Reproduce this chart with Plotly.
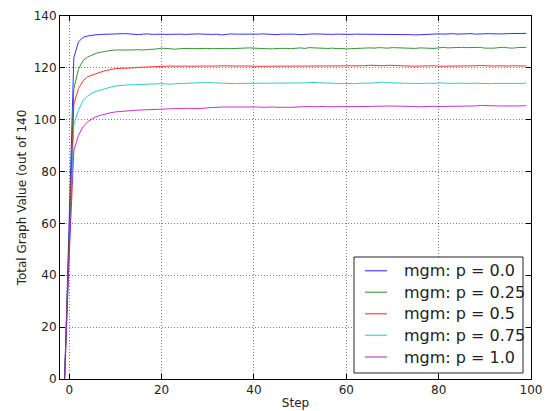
import plotly.graph_objects as go

steps = list(range(-1, 100))

p_00 = [0, 62, 124, 130.0, 131.8, 132.3, 132.6, 132.8, 132.9, 133.0, 132.9, 133.0,
        133.1, 133.2, 133.1, 132.9, 132.8, 133.0, 133.1, 132.9, 133.0, 133.0,
        132.9, 133.0, 133.1, 133.0, 132.9, 133.0, 133.1, 133.1, 133.0, 132.9,
        132.9, 133.0, 132.7, 132.9, 133.1, 133.0, 132.9, 133.0, 133.0, 132.9,
        133.0, 133.1, 133.0, 132.9, 132.8, 133.0, 133.0, 133.1, 133.0, 132.8,
        133.0, 133.0, 133.1, 133.0, 132.9, 133.0, 132.9, 133.0, 132.9, 132.8,
        132.9, 133.0, 133.0, 132.9, 132.9, 132.8, 132.8, 132.9, 132.9, 132.8,
        132.8, 132.9, 132.8, 132.8, 132.7, 132.8, 132.9, 132.8, 133.0, 133.1,
        133.0, 133.1, 133.2, 133.0, 133.1, 133.3, 133.2, 133.0, 133.1, 133.2,
        133.2, 133.1, 133.0, 133.1, 133.2, 133.2, 133.1, 133.2, 133.3]

p_025 = [0, 58, 112, 119.5, 122.8, 124.2, 125.0, 125.7, 126.1, 126.5, 126.7, 126.9,
         126.8, 126.9, 126.9, 127.0, 127.0, 126.9, 127.0, 127.1, 127.3, 127.6,
         127.5, 127.4, 127.2, 127.4, 127.5, 127.5, 127.4, 127.5, 127.5, 127.5,
         127.4, 127.5, 127.6, 127.5, 127.4, 127.5, 127.6, 127.5, 127.7, 127.6,
         127.5, 127.6, 127.5, 127.3, 127.5, 127.6, 127.5, 127.4, 127.6, 127.7,
         127.5, 127.8, 127.7, 127.6, 127.6, 127.5, 127.6, 127.4, 127.5, 127.3,
         127.4, 127.5, 127.4, 127.6, 127.7, 127.6, 127.8, 127.7, 127.6, 127.8,
         127.7, 127.6, 127.5, 127.6, 127.5, 127.7, 127.6, 127.7, 127.5, 127.7,
         127.9, 127.7, 127.8, 127.8, 127.9, 127.8, 127.9, 128.0, 127.9, 127.6,
         127.5, 127.6, 127.8, 127.9, 127.7, 127.6, 127.8, 127.9, 127.9]

p_05 = [0, 55, 106, 112.0, 115.0, 116.6, 117.3, 117.9, 118.5, 119.0, 119.4, 119.7,
        119.8, 119.8, 119.9, 120.0, 120.2, 120.3, 120.2, 120.4, 120.5, 120.6,
        120.6, 120.7, 120.6, 120.7, 120.7, 120.6, 120.7, 120.8, 120.7, 120.7,
        120.6, 120.7, 120.8, 120.7, 120.6, 120.7, 120.7, 120.8, 120.7, 120.6,
        120.6, 120.7, 120.8, 120.7, 120.6, 120.7, 120.8, 120.8, 120.7, 120.7,
        120.8, 120.7, 120.7, 120.6, 120.6, 120.7, 120.8, 120.7, 120.7, 120.8,
        120.7, 120.8, 120.7, 120.8, 121.0, 120.9, 120.8, 120.8, 121.0, 120.9,
        120.8, 120.9, 120.8, 120.7, 120.6, 120.7, 120.8, 120.7, 120.8, 120.6,
        120.6, 120.7, 120.8, 120.7, 120.8, 120.7, 120.7, 120.8, 120.9, 120.8,
        120.7, 120.7, 120.8, 120.7, 120.7, 120.8, 120.7, 120.8, 120.7]

p_075 = [0, 52, 98, 103.7, 107.4, 109.2, 110.3, 111.0, 111.6, 112.1, 112.6, 113.0,
         113.2, 113.3, 113.5, 113.5, 113.6, 113.7, 113.7, 113.8, 113.8, 113.9,
         113.8, 113.7, 113.9, 114.0, 114.1, 114.0, 114.2, 114.4, 114.3, 114.3,
         114.2, 114.1, 114.0, 114.1, 114.0, 113.9, 114.0, 114.0, 114.1, 114.0,
         114.0, 114.1, 114.0, 114.1, 114.0, 114.1, 114.2, 114.1, 114.0, 114.1,
         114.2, 114.4, 114.3, 114.2, 114.1, 114.0, 114.1, 114.0, 114.0, 113.9,
         114.0, 113.9, 114.1, 114.0, 114.1, 114.2, 114.3, 114.5, 114.3, 114.2,
         114.1, 114.0, 113.9, 114.0, 114.0, 113.9, 114.0, 114.1, 114.0, 114.2,
         114.1, 114.0, 114.0, 114.1, 114.0, 113.9, 114.0, 114.1, 114.0, 113.9,
         113.9, 114.0, 114.0, 113.9, 113.8, 113.9, 114.0, 114.0, 114.1]

p_10 = [0, 48, 88, 94.0, 97.3, 99.2, 100.4, 101.3, 101.8, 102.3, 102.7, 103.0,
        103.2, 103.4, 103.5, 103.6, 103.7, 103.8, 103.8, 103.9, 104.0, 104.1,
        104.1, 104.2, 104.3, 104.3, 104.4, 104.4, 104.3, 104.3, 104.4, 104.6,
        104.8, 104.8, 104.9, 104.9, 105.0, 105.0, 105.0, 105.1, 105.0, 104.9,
        104.9, 104.8, 104.9, 104.9, 104.8, 104.9, 104.8, 104.8, 104.9, 105.0,
        105.0, 105.1, 105.0, 105.1, 105.1, 105.0, 105.0, 104.9, 105.0, 105.0,
        105.0, 104.9, 105.0, 105.1, 105.1, 105.2, 105.1, 105.2, 105.3, 105.3,
        105.2, 105.3, 105.2, 105.1, 105.1, 105.0, 105.1, 105.1, 105.2, 105.1,
        105.1, 105.2, 105.1, 105.1, 105.2, 105.2, 105.1, 105.3, 105.5, 105.4,
        105.3, 105.2, 105.3, 105.3, 105.2, 105.3, 105.3, 105.3, 105.4]

labels = ["mgm: p = 0.0", "mgm: p = 0.25", "mgm: p = 0.5", "mgm: p = 0.75", "mgm: p = 1.0"]
series = [p_00, p_025, p_05, p_075, p_10]
colors = ["#0000ff", "#008000", "#ff0000", "#00bfbf", "#bf00bf"]

fig = go.Figure()
for name, vals, col in zip(labels, series, colors):
    fig.add_trace(go.Scatter(x=steps, y=vals, mode="lines", name=name,
                             line=dict(color=col, width=1), opacity=0.8,
                             showlegend=False))

axis_common = dict(
    automargin=False,
    showline=True, linecolor="#000", linewidth=1, mirror="ticks",
    ticks="inside", ticklen=5, tickcolor="#000",
    showgrid=True, gridcolor="rgba(0,0,0,0.5)", gridwidth=1, griddash="1px,2px",
    zeroline=False, tickfont=dict(family="DejaVu Sans", size=12, color="#222"),
)

fig.update_layout(
    width=547, height=411,
    margin=dict(l=60, r=16, t=16, b=32),
    paper_bgcolor="white", plot_bgcolor="white",
    font=dict(family="DejaVu Sans", size=12, color="#222"),
    xaxis=dict(range=[-2, 100], tickvals=[0, 20, 40, 60, 80, 100],
               title=dict(text="Step", standoff=2, font=dict(size=12)), **axis_common),
    yaxis=dict(range=[0, 140], tickvals=[0, 20, 40, 60, 80, 100, 120, 140],
               title=dict(text="Total Graph Value (out of 140", standoff=4, font=dict(size=12)),
               **axis_common),
    showlegend=False,
)

# Legend drawn in paper coordinates (plot area: x 60..531 px, y 16..379 px)
W, H = 471.0, 363.0
def px(xp):
    return (xp - 60) / W
def py(yp):
    return (379 - yp) / H

fig.add_shape(type="rect", xref="paper", yref="paper",
              x0=px(354), x1=px(523), y0=py(373), y1=py(257),
              line=dict(color="#222", width=1), fillcolor="white", layer="above")
row_y = [270.7, 292.3, 313.7, 335.3, 357.0]
for name, col, ry in zip(labels, colors, row_y):
    fig.add_shape(type="line", xref="paper", yref="paper",
                  x0=px(365), x1=px(387), y0=py(ry), y1=py(ry),
                  line=dict(color=col, width=1.5), opacity=0.6, layer="above")
    fig.add_annotation(xref="paper", yref="paper", x=px(402), y=py(ry),
                       xanchor="left", yanchor="middle", showarrow=False,
                       text=name, font=dict(family="DejaVu Sans", size=16, color="#222"))

fig.write_html("out.html", config={"displayModeBar": False},
               post_script="document.body.style.margin='0px';document.body.style.overflow='hidden';")
